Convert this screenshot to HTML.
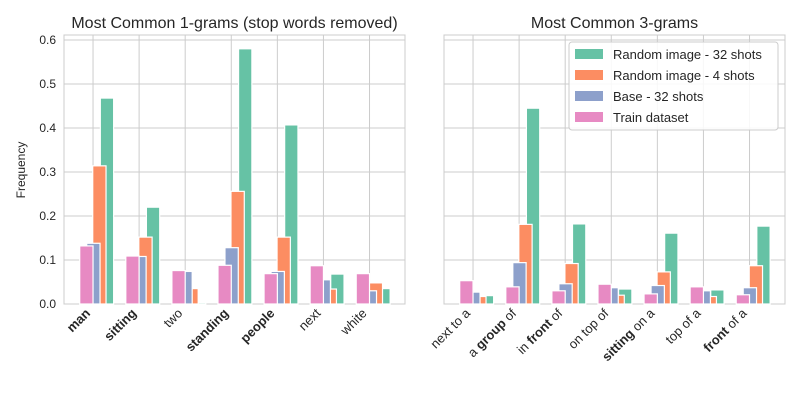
<!DOCTYPE html>
<html><head><meta charset="utf-8"><style>
body{margin:0;background:#fff;width:800px;height:400px;overflow:hidden}
svg{font-family:"Liberation Sans",sans-serif}
</style></head><body>
<svg id="chart" width="800" height="400" viewBox="0 0 800 400"></svg>
<script>
const cats1 = [["man",1],["sitting",1],["two",0],["standing",1],["people",1],["next",0],["white",0]];
const train1 = [0.132,0.109,0.076,0.088,0.069,0.087,0.069];
const base1 = [0.138,0.108,0.074,0.128,0.074,0.055,0.030];
const rand4_1 = [0.314,0.152,0.035,0.256,0.152,0.034,0.048];
const rand32_1 = [0.468,0.220,0.003,0.580,0.407,0.068,0.035];
const cats2 = [[["next to a",0]],[["a ",0],["group",1],[" of",0]],[["in ",0],["front",1],[" of",0]],[["on top of",0]],[["sitting",1],[" on a",0]],[["top of a",0]],[["front",1],[" of a",0]]];
const train2 = [0.053,0.039,0.030,0.045,0.023,0.039,0.021];
const base2 = [0.027,0.094,0.046,0.037,0.042,0.030,0.037];
const rand4_2 = [0.017,0.181,0.092,0.020,0.073,0.017,0.087];
const rand32_2 = [0.019,0.445,0.182,0.034,0.161,0.032,0.177];
const yTicks = [0,0.1,0.2,0.3,0.4,0.5,0.6];
const legendLabels = ["Random image - 32 shots","Random image - 4 shots","Base - 32 shots","Train dataset"];

const NS="http://www.w3.org/2000/svg";
const svg=document.getElementById('chart');
function mk(t,a,p){const e=document.createElementNS(NS,t);for(const k in a)e.setAttribute(k,a[k]);(p||svg).appendChild(e);return e;}
const Y0=304,Y1=35;
function y(v){return Y0-v/0.6*264;}
const C={g:"#66c2a5",o:"#fc8d62",b:"#8da0cb",p:"#e78ac3"};

function panel(x0,x1,cats,tr,ba,r4,r32,name,title,showY){
  const g=mk('g',{});
  
  
  const step=(x1-x0)/7.4;
  const cx=i=>x0+step*(0.63+i);
  yTicks.forEach(t=>{const l=mk('line',{x1:x0,x2:x1,y1:y(t),y2:y(t),stroke:'#cccccc','stroke-width':1},g);
    
    if(showY){const tx=mk('text',{x:x0-8,y:y(t)+4,'text-anchor':'end','font-size':12,fill:'#262626'},g);tx.textContent=t.toFixed(1);
      }
  });
  cats.forEach((c,i)=>{const l=mk('line',{x1:cx(i),x2:cx(i),y1:Y1,y2:Y0,stroke:'#cccccc','stroke-width':1},g);
    });
  const fr=mk('rect',{x:x0,y:Y1,width:x1-x0,height:Y0-Y1,fill:'none',stroke:'#cccccc','stroke-width':1},g);
  
  const bar=(x,v,col,nm)=>{const r=mk('rect',{x:x,y:y(v),width:13.3,height:Y0-y(v),fill:col,stroke:'#fff','stroke-width':1.2},g);
    };
  cats.forEach((c,i)=>{const c0=cx(i);
    bar(c0+7.3,r32[i],C.g,'bar-random-32');
    bar(c0-0.3,r4[i],C.o,'bar-random-4');
    bar(c0-6.3,ba[i],C.b,'bar-base-32');
    bar(c0-13.3,tr[i],C.p,'bar-train');
    const t=mk('text',{transform:`translate(${c0-2},${314}) rotate(-45)`,'text-anchor':'end','font-size':13,fill:'#262626'},g);
    
    const parts=Array.isArray(c[0])?c:[c];
    parts.forEach(p=>{const s=mk('tspan',{'font-weight':p[1]?'bold':'normal'},t);s.textContent=p[0];});
  });
  const tt=mk('text',{x:(x0+x1)/2,y:28,'text-anchor':'middle','font-size':16,fill:'#262626'},g);
  tt.textContent=title;
}
panel(64,405,cats1,train1,base1,rand4_1,rand32_1,'left-panel','Most Common 1-grams (stop words removed)',true);
panel(444,785,cats2,train2,base2,rand4_2,rand32_2,'right-panel','Most Common 3-grams',false);

const yl=mk('text',{transform:'translate(25,170) rotate(-90)','text-anchor':'middle','font-size':12,fill:'#262626'});
yl.textContent='Frequency';

const lg=mk('g',{});

mk('rect',{x:569,y:42,width:209,height:88,rx:3,fill:'#fff','fill-opacity':0.85,stroke:'#cccccc'},lg);
[C.g,C.o,C.b,C.p].forEach((col,i)=>{
  const e=mk('g',{},lg);
  
  mk('rect',{x:575,y:49+i*21,width:28,height:10,fill:col},e);
  const t=mk('text',{x:613,y:59+i*21,'font-size':13,fill:'#262626'},e);t.textContent=legendLabels[i];
});
</script>
</body></html>
